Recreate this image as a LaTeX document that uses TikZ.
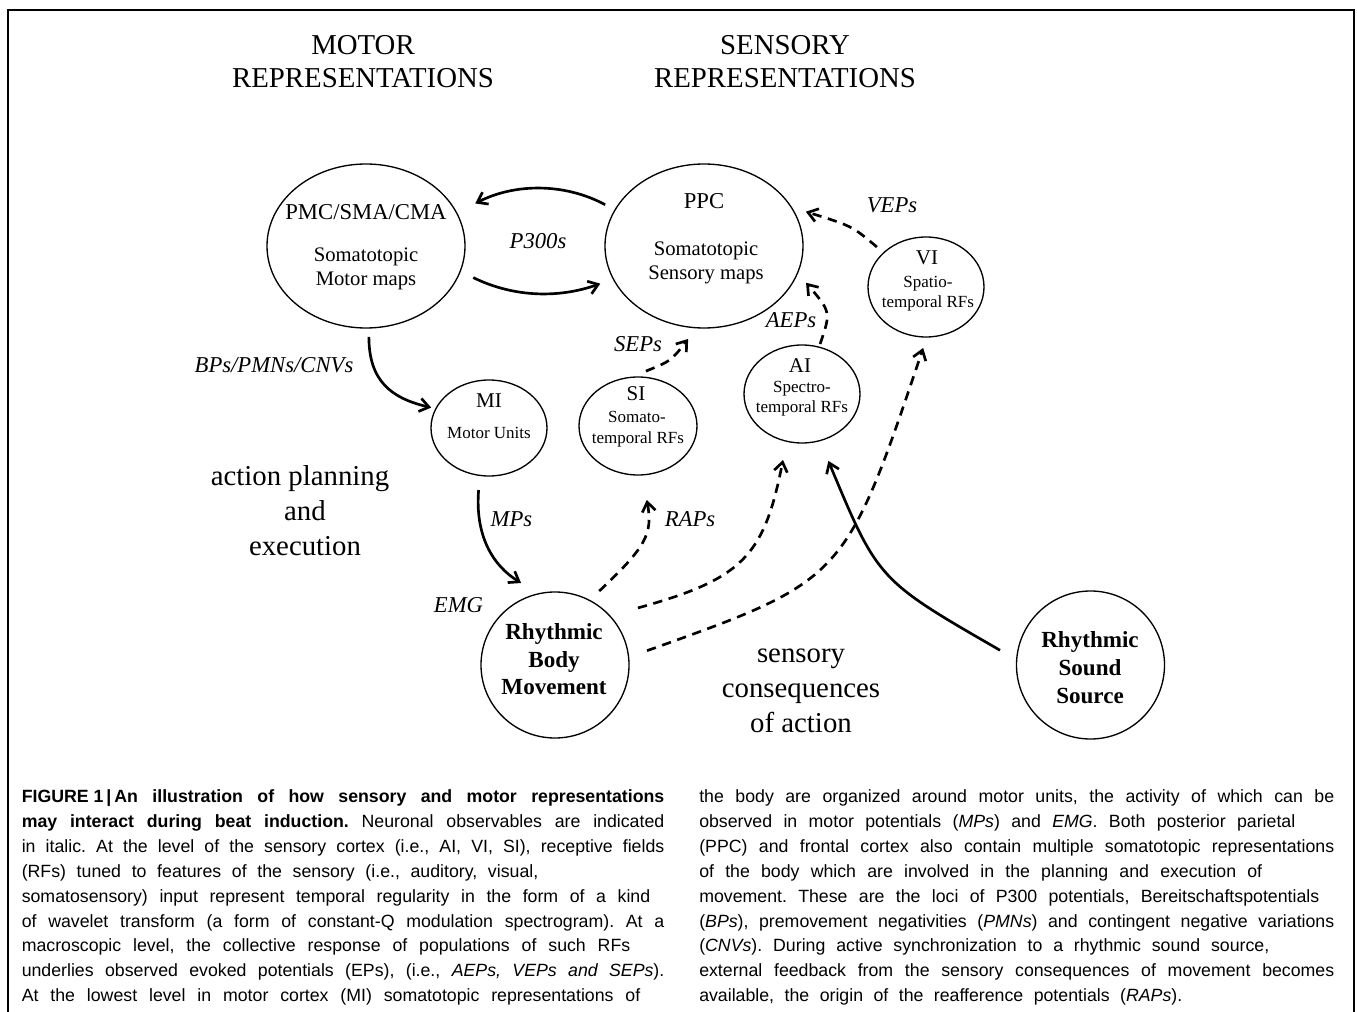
\documentclass[tikz,border=0pt]{standalone}
\usepackage{fontspec}
\setmainfont{Liberation Serif}
\newfontfamily\captionsans{Liberation Sans}
\usepackage{tikz}
\usetikzlibrary{shapes,arrows.meta}
\frenchspacing
\tikzset{
  brainarea/.style={draw, ellipse, line width=1pt, inner sep=0pt, outer sep=0pt},
  headline/.style={inner sep=0pt, anchor=base, font=\fontsize{21.6pt}{26pt}\selectfont},
  areaname/.style={inner sep=0pt, anchor=base, font=\fontsize{17pt}{20pt}\selectfont},
  maptext/.style={inner sep=0pt, anchor=base, font=\fontsize{15.5pt}{18pt}\selectfont},
  cortexname/.style={inner sep=0pt, anchor=base, font=\fontsize{15.75pt}{18pt}\selectfont},
  rftext/.style={inner sep=0pt, anchor=base, font=\fontsize{12.75pt}{15pt}\selectfont},
  bodytext/.style={inner sep=0pt, anchor=base, font=\bfseries\fontsize{17.3pt}{20pt}\selectfont},
  potential/.style={inner sep=0pt, anchor=base, font=\itshape\fontsize{17pt}{20pt}\selectfont},
  solidlink/.style={line width=2pt, -{Straight Barb[length=7pt,width=10pt]}},
  dashlink/.style={solidlink, dash pattern=on 7pt off 5pt},
  capline/.style={inner sep=0pt, anchor=base west, font=\captionsans\fontsize{13.3pt}{16pt}\selectfont},
  frameline/.style={line width=2pt}
}

\begin{document}
\begin{tikzpicture}[x=0.75pt, y=-0.75pt]
  \useasboundingbox (0,0) rectangle (1357,1012);
  \draw[frameline] (8,1012) -- (8,10) -- (1354,10) -- (1354,1012);

  \node[headline] (motortop) at (363,55) {MOTOR};
  \node[headline] (motorbottom) at (363,88) {REPRESENTATIONS};
  \node[headline] (sensorytop) at (785,55) {SENSORY};
  \node[headline] (sensorybottom) at (785,88) {REPRESENTATIONS};

  \node[brainarea, minimum width=148.5pt, minimum height=123pt] (pmc) at (366,246) {};
  \node[areaname] (pmcname) at (366,220) {PMC/SMA/CMA};
  \node[maptext] (pmcmapsa) at (366,262) {Somatotopic};
  \node[maptext] (pmcmapsb) at (366,286) {Motor maps};

  \node[brainarea, minimum width=148.5pt, minimum height=123pt] (ppc) at (704,246) {};
  \node[areaname] (ppcname) at (704,209) {PPC};
  \node[maptext] (ppcmapsa) at (706,256) {Somatotopic};
  \node[maptext] (ppcmapsb) at (706,280) {Sensory maps};

  \node[brainarea, minimum width=87pt, minimum height=75pt] (vi) at (926,287) {};
  \node[cortexname] (viname) at (927,265) {VI};
  \node[rftext] (virfa) at (928,288) {Spatio-};
  \node[rftext] (virfb) at (928,308) {temporal RFs};

  \node[brainarea, minimum width=87pt, minimum height=73.5pt] (ai) at (802,394) {};
  \node[cortexname] (ainame) at (800,373) {AI};
  \node[rftext] (airfa) at (802,393) {Spectro-};
  \node[rftext] (airfb) at (802,413) {temporal RFs};

  \node[brainarea, minimum width=88.5pt, minimum height=73.5pt] (si) at (638,426) {};
  \node[cortexname] (siname) at (636,401) {SI};
  \node[rftext] (sirfa) at (637,423) {Somato-};
  \node[rftext] (sirfb) at (638,444) {temporal RFs};

  \node[brainarea, minimum width=87pt, minimum height=72pt] (mi) at (489,428) {};
  \node[cortexname] (miname) at (489,408) {MI};
  \node[rftext] (miunits) at (489,439) {Motor Units};

  \node[brainarea, minimum width=111pt, minimum height=109.5pt] (rbm) at (555,665) {};
  \node[bodytext] (rbma) at (554,639) {Rhythmic};
  \node[bodytext] (rbmb) at (554,667) {Body};
  \node[bodytext] (rbmc) at (554,694) {Movement};

  \node[brainarea, minimum width=111pt, minimum height=111pt] (rss) at (1090.5,665) {};
  \node[bodytext] (rssa) at (1090,647) {Rhythmic};
  \node[bodytext] (rssb) at (1090,675) {Sound};
  \node[bodytext] (rssc) at (1090,703) {Source};

  \node[headline] (plana) at (300,485) {action planning};
  \node[headline] (planb) at (305,520) {and};
  \node[headline] (planc) at (305,555) {execution};
  \node[headline] (consa) at (801,662) {sensory};
  \node[headline] (consb) at (801,697) {consequences};
  \node[headline] (consc) at (801,732) {of action};

  \node[potential] (ptrois) at (538,249) {P300s};
  \node[potential] (pbp) at (274,373) {BPs/PMNs/CNVs};
  \node[potential] (psep) at (638,352) {SEPs};
  \node[potential] (paep) at (791,328) {AEPs};
  \node[potential] (pvep) at (892,213) {VEPs};
  \node[potential] (pmp) at (511.5,527) {MPs};
  \node[potential] (prap) at (690,527) {RAPs};
  \node[potential] (pemg) at (458.5,612) {EMG};

  \draw[solidlink, shorten <=8.4pt, shorten >=15.7pt] (ppc.158) .. controls (565,183) and (515,183) .. (pmc.20.5);
  \draw[solidlink, shorten <=10.9pt, shorten >=10.4pt] (pmc.-15.4) .. controls (515,298) and (560,298) .. (ppc.-160.5);
  \draw[solidlink, shorten <=6.75pt, shorten >=3.6pt] (pmc.-88.6) .. controls (369,380) and (390,398) .. (mi.160.5);
  \draw[solidlink, shorten <=11pt, shorten >=15.4pt] (mi.-101) .. controls (475,535) and (492,565) .. (rbm.103);
  \draw[dashlink, shorten <=10.1pt, shorten >=19.1pt] (rbm.62) .. controls (646,547) and (653,534) .. (si.-85);
  \draw[dashlink, shorten <=22pt, shorten >=14.3pt] (rbm.42) .. controls (742,579) and (764,557) .. (ai.-108);
  \draw[dashlink, shorten <=14.7pt, shorten >=8.7pt] (rbm.6.5) .. controls (845,580) .. (vi.-89);
  \draw[solidlink, shorten <=14.4pt, shorten >=16.5pt] (rss.176) .. controls (878,580) .. (ai.-69.5);
  \draw[dashlink, shorten <=12.6pt, shorten >=10.6pt] (si.99) .. controls (671,361) .. (ppc.-95);
  \draw[dashlink, shorten <=2.5pt, shorten >=9.8pt] (ai.70) .. controls (831,312) .. (ppc.-16);
  \draw[dashlink, shorten <=6.7pt, shorten >=11.5pt] (vi.141) .. controls (852,226) .. (ppc.24);

  \node[capline] (capla) at (21.5,802.5) {\makebox[481.9pt][s]{\bfseries\mbox{FIGURE 1\thinspace|\thinspace An} illustration of how sensory and motor representations}};
  \node[capline] (caplb) at (21.5,827.4) {\makebox[481.9pt][s]{\textbf{may interact during beat induction.} Neuronal observables are indicated}};
  \node[capline] (caplc) at (21.5,852.3) {\makebox[481.9pt][s]{in italic. At the level of the sensory cortex (i.e., AI, VI, SI), receptive fields}};
  \node[capline] (capld) at (21.5,877.2) {\makebox[387.4pt][s]{(RFs) tuned to features of the sensory (i.e., auditory, visual,}};
  \node[capline] (caple) at (21.5,902.1) {\makebox[471.4pt][s]{somatosensory) input represent temporal regularity in the form of a kind}};
  \node[capline] (caplf) at (21.5,927) {\makebox[481.9pt][s]{of wavelet transform (a form of constant-Q modulation spectrogram). At a}};
  \node[capline] (caplg) at (21.5,951.9) {\makebox[456.4pt][s]{macroscopic level, the collective response of populations of such RFs}};
  \node[capline] (caplh) at (21.5,976.8) {\makebox[481.9pt][s]{underlies observed evoked potentials (EPs), (i.e., \textit{AEPs, VEPs and SEPs}).}};
  \node[capline] (capli) at (21.5,1001.7) {\makebox[463.9pt][s]{At the lowest level in motor cortex (MI) somatotopic representations of}};

  \node[capline] (capra) at (699,802.5) {\makebox[476.25pt][s]{the body are organized around motor units, the activity of which can be}};
  \node[capline] (caprb) at (699,827.4) {\makebox[447pt][s]{observed in motor potentials (\textit{MPs}) and \textit{EMG}. Both posterior parietal}};
  \node[capline] (caprc) at (699,852.3) {\makebox[476.25pt][s]{(PPC) and frontal cortex also contain multiple somatotopic representations}};
  \node[capline] (caprd) at (699,877.2) {\makebox[422.25pt][s]{of the body which are involved in the planning and execution of}};
  \node[capline] (capre) at (699,902.1) {\makebox[465pt][s]{movement. These are the loci of P300 potentials, Bereitschaftspotentials}};
  \node[capline] (caprf) at (699,927) {\makebox[476.25pt][s]{(\textit{BPs}), premovement negativities (\textit{PMNs}) and contingent negative variations}};
  \node[capline] (caprg) at (699,951.9) {\makebox[427.5pt][s]{(\textit{CNVs}). During active synchronization to a rhythmic sound source,}};
  \node[capline] (caprh) at (699,976.8) {\makebox[476.25pt][s]{external feedback from the sensory consequences of movement becomes}};
  \node[capline] (capri) at (699,1001.7) {\makebox[362.25pt][s]{available, the origin of the reafference potentials (\textit{RAPs}).}};
\end{tikzpicture}
\end{document}
